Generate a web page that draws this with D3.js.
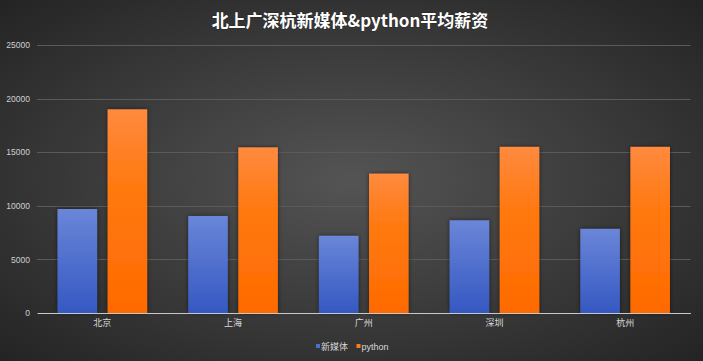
<!DOCTYPE html>
<html><head><meta charset="utf-8">
<script src="https://cdn.jsdelivr.net/npm/d3@7/dist/d3.min.js"></script>
<style>
html,body{margin:0;padding:0;background:#333;}
svg{display:block;font-family:"Liberation Sans","Noto Sans CJK SC",sans-serif;}
</style></head><body>
<svg id="chart" width="703" height="361"></svg>
<script>
const title = "北上广深杭新媒体&python平均薪资";
const categories = ["北京","上海","广州","深圳","杭州"];
const seriesNames = ["新媒体","python"];
const newMedia = [9700, 9050, 7200, 8650, 7850];
const python = [19000, 15450, 13000, 15500, 15500];
const yTicks = [0,5000,10000,15000,20000,25000];

const W = 703, H = 361;
const svg = d3.select("#chart");
const defs = svg.append("defs");

const bg = defs.append("radialGradient").attr("id","bg")
  .attr("cx","50%").attr("cy","50%").attr("r","70%");
bg.append("stop").attr("offset","0%").attr("stop-color","#545454");
bg.append("stop").attr("offset","100%").attr("stop-color","#242424");

const gBlue = defs.append("linearGradient").attr("id","gBlue").attr("x1",0).attr("y1",0).attr("x2",0).attr("y2",1);
gBlue.append("stop").attr("offset","0%").attr("stop-color","#6a86d8");
gBlue.append("stop").attr("offset","100%").attr("stop-color","#3558c2");
const gOrange = defs.append("linearGradient").attr("id","gOrange").attr("x1",0).attr("y1",0).attr("x2",0).attr("y2",1);
gOrange.append("stop").attr("offset","0%").attr("stop-color","#ff8a40");
gOrange.append("stop").attr("offset","35%").attr("stop-color","#ff7a12");
gOrange.append("stop").attr("offset","100%").attr("stop-color","#ff6a00");

const sh = defs.append("filter").attr("id","shadow").attr("x","-30%").attr("y","-10%").attr("width","160%").attr("height","120%");
sh.append("feDropShadow").attr("dx",0).attr("dy",0).attr("stdDeviation",2.2)
  .attr("flood-color","#000").attr("flood-opacity",0.55);

svg.append("rect").attr("width",W).attr("height",H).attr("fill","url(#bg)");

const x0 = d3.scaleBand().domain(categories).range([37, 690.5]).paddingInner(0).paddingOuter(0);
const x1 = d3.scaleBand().domain(seriesNames).range([0, x0.bandwidth()]).paddingInner(0.21).paddingOuter(0.41);
const y = d3.scaleLinear().domain([0,25000]).range([313,45]);

// gridlines
svg.append("g").selectAll("line").data(yTicks.filter(d=>d>0)).join("line")
  .attr("x1",37).attr("x2",690.5)
  .attr("y1",d=>Math.round(y(d))+0.5).attr("y2",d=>Math.round(y(d))+0.5)
  .attr("stroke","#5a5a5a").attr("stroke-width",1);

// y axis labels
const yAxis = d3.axisLeft(y).tickValues(yTicks).tickSize(0).tickPadding(0).tickFormat(d3.format("d"));
const ya = svg.append("g").attr("transform","translate(30,0)").call(yAxis);
ya.select(".domain").remove();
ya.selectAll("text").attr("fill","#d0d0d0").attr("font-size","8.5px").attr("font-family","Liberation Sans, sans-serif");

// bars
const data = categories.map((c,i)=>({c, vals:[{k:"新媒体",v:newMedia[i]},{k:"python",v:python[i]}]}));
const grp = svg.append("g").selectAll("g").data(data).join("g")
  .attr("transform",d=>`translate(${x0(d.c)},0)`);
grp.selectAll("rect").data(d=>d.vals).join("rect")
  .attr("x",d=>x1(d.k)).attr("width",x1.bandwidth())
  .attr("y",d=>y(d.v)).attr("height",d=>y(0)-y(d.v))
  .attr("fill",d=>d.k==="新媒体"?"url(#gBlue)":"url(#gOrange)")
  .attr("filter","url(#shadow)");

// x axis
const xAxis = d3.axisBottom(x0).tickSize(0).tickPadding(7);
const xa = svg.append("g").attr("transform",`translate(0,${y(0)})`).call(xAxis);
xa.select(".domain").attr("stroke","#c8c8c8").attr("stroke-width",1.2);
xa.selectAll("text").attr("fill","#d8d8d8").attr("font-size","9px").attr("font-family","Noto Sans CJK SC, sans-serif");

// title
svg.append("text").attr("x",350).attr("y",27).attr("text-anchor","middle")
  .attr("fill","#ffffff").attr("font-size","17px").attr("font-weight","bold")
  .attr("font-family","Noto Sans CJK SC, sans-serif")
  .style("paint-order","stroke").attr("stroke","rgba(0,0,0,0.25)").attr("stroke-width",1)
  .text(title);

// legend
const legend = [{k:"新媒体",c:"#4a6fd0",x:316},{k:"python",c:"#ff7a1a",x:356.5}];
const lg = svg.append("g").selectAll("g").data(legend).join("g")
  .attr("transform",d=>`translate(${d.x},344)`);
lg.append("rect").attr("width",4).attr("height",4).attr("fill",d=>d.c);
lg.append("text").attr("x",5).attr("y",d=>d.k==="python"?6:5.5).attr("fill","#d8d8d8").attr("font-size","9px")
  .attr("font-family",d=>d.k==="python"?"Liberation Sans, sans-serif":"Noto Sans CJK SC, sans-serif")
  .text(d=>d.k);
</script>
</body></html>
